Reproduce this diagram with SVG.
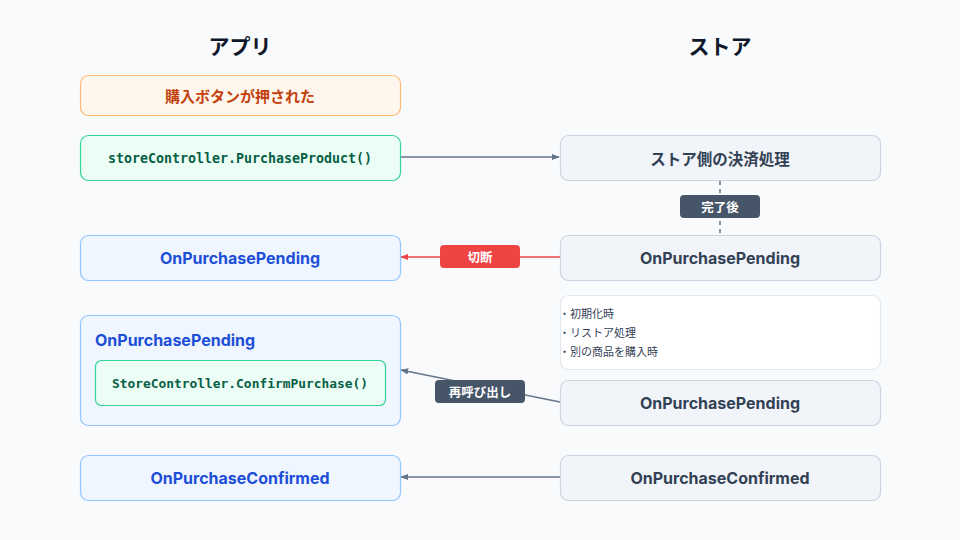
<svg xmlns="http://www.w3.org/2000/svg" width="960" height="540" viewBox="0 0 960 540">
<defs>
<style>
.t{font-family:Inter,"Noto Sans CJK JP",sans-serif;text-anchor:middle;dominant-baseline:central}
.cjk{font-family:"Noto Sans CJK JP",sans-serif;text-anchor:middle;dominant-baseline:central}
.mono{font-family:"DejaVu Sans Mono","Liberation Mono",monospace;font-size:13.3px;font-weight:700;fill:#065f46;text-anchor:middle;dominant-baseline:central}
.app{fill:#eff6ff;stroke:#93c5fd;stroke-width:1.2}
.store{fill:#f1f5f9;stroke:#cbd5e1;stroke-width:1.2}
.code{fill:#ecfdf5;stroke:#34d399;stroke-width:1.2}
.appt{font-size:16px;font-weight:700;fill:#1d4ed8}
.storet{font-size:16px;font-weight:700;fill:#334155}
.lbl{font-size:12.5px;font-weight:700;fill:#ffffff}
.line{fill:none;stroke:#64748b;stroke-width:1.5}
</style>
<marker id="ag" viewBox="0 0 10 10" refX="9" refY="5" markerWidth="8" markerHeight="8" markerUnits="userSpaceOnUse" orient="auto"><path d="M0,1 L10,5 L0,9 Z" fill="#64748b"/></marker>
<marker id="ar" viewBox="0 0 10 10" refX="9" refY="5" markerWidth="8" markerHeight="8" markerUnits="userSpaceOnUse" orient="auto"><path d="M0,1 L10,5 L0,9 Z" fill="#ef4444"/></marker>
</defs>
<rect width="960" height="540" fill="#f8fafc"/>
<text class="cjk" x="240" y="45" font-size="21" font-weight="700" fill="#0f172a">アプリ</text>
<text class="cjk" x="720" y="45" font-size="21" font-weight="700" fill="#0f172a">ストア</text>

<g id="connectors">
<line class="line" x1="400" y1="157" x2="559" y2="157" marker-end="url(#ag)"/>
<line x1="720" y1="181" x2="720" y2="234" stroke="#64748b" stroke-width="1.5" stroke-dasharray="4,4"/>
<line x1="560" y1="257" x2="401" y2="257" stroke="#ef4444" stroke-width="1.5" marker-end="url(#ar)"/>
<line class="line" x1="560" y1="402" x2="401" y2="370" marker-end="url(#ag)"/>
<line class="line" x1="560" y1="477" x2="401" y2="477" marker-end="url(#ag)"/>
<g id="label-done"><rect x="680" y="195" width="80" height="23" rx="4" fill="#475569"/><text class="cjk lbl" x="720" y="206.5">完了後</text></g>
<g id="label-cut"><rect x="440" y="245" width="80" height="23" rx="4" fill="#ef4444"/><text class="cjk lbl" x="480" y="256.5">切断</text></g>
<g id="label-recall"><rect x="435" y="380" width="90" height="23" rx="4" fill="#475569"/><text class="cjk lbl" x="480" y="391.5">再呼び出し</text></g>
</g>

<g id="app-pressed"><rect x="80.5" y="75.5" width="320" height="40" rx="8" fill="#fff7ed" stroke="#fdba74" stroke-width="1.2"/><text class="cjk" x="240" y="95.5" font-size="15" font-weight="700" fill="#c2410c">購入ボタンが押された</text></g>
<g id="app-purchase"><rect class="code" x="80.5" y="135.5" width="320" height="45" rx="8"/><text class="mono" x="240" y="158">storeController.PurchaseProduct()</text></g>
<g id="store-process"><rect class="store" x="560.5" y="135.5" width="320" height="45" rx="8"/><text class="cjk storet" x="720" y="158" style="font-size:15.5px">ストア側の決済処理</text></g>
<g id="app-pending1"><rect class="app" x="80.5" y="235.5" width="320" height="45" rx="8"/><text class="t appt" x="240" y="257.5">OnPurchasePending</text></g>
<g id="store-pending1"><rect class="store" x="560.5" y="235.5" width="320" height="45" rx="8"/><text class="t storet" x="720" y="257.5">OnPurchasePending</text></g>
<g id="store-note"><rect x="560.5" y="295.5" width="320" height="74" rx="8" fill="#ffffff" stroke="#e2e8f0" stroke-width="1.2"/>
<text font-family="'Noto Sans CJK JP',sans-serif" font-size="11" fill="#334155"><tspan x="559" y="318">・初期化時</tspan><tspan x="559" y="337">・リストア処理</tspan><tspan x="559" y="356">・別の商品を購入時</tspan></text></g>
<g id="app-pending2"><rect class="app" x="80.5" y="315.5" width="320" height="110" rx="8"/><text class="t appt" x="95" y="340" style="text-anchor:start">OnPurchasePending</text>
<rect class="code" x="95.5" y="360.5" width="290" height="45" rx="6"/><text class="mono" x="240" y="383" style="font-size:12.9px">StoreController.ConfirmPurchase()</text></g>
<g id="store-pending2"><rect class="store" x="560.5" y="380.5" width="320" height="45" rx="8"/><text class="t storet" x="720" y="402.5">OnPurchasePending</text></g>
<g id="app-confirmed"><rect class="app" x="80.5" y="455.5" width="320" height="45" rx="8"/><text class="t appt" x="240" y="477.5">OnPurchaseConfirmed</text></g>
<g id="store-confirmed"><rect class="store" x="560.5" y="455.5" width="320" height="45" rx="8"/><text class="t storet" x="720" y="477.5">OnPurchaseConfirmed</text></g>
</svg>
